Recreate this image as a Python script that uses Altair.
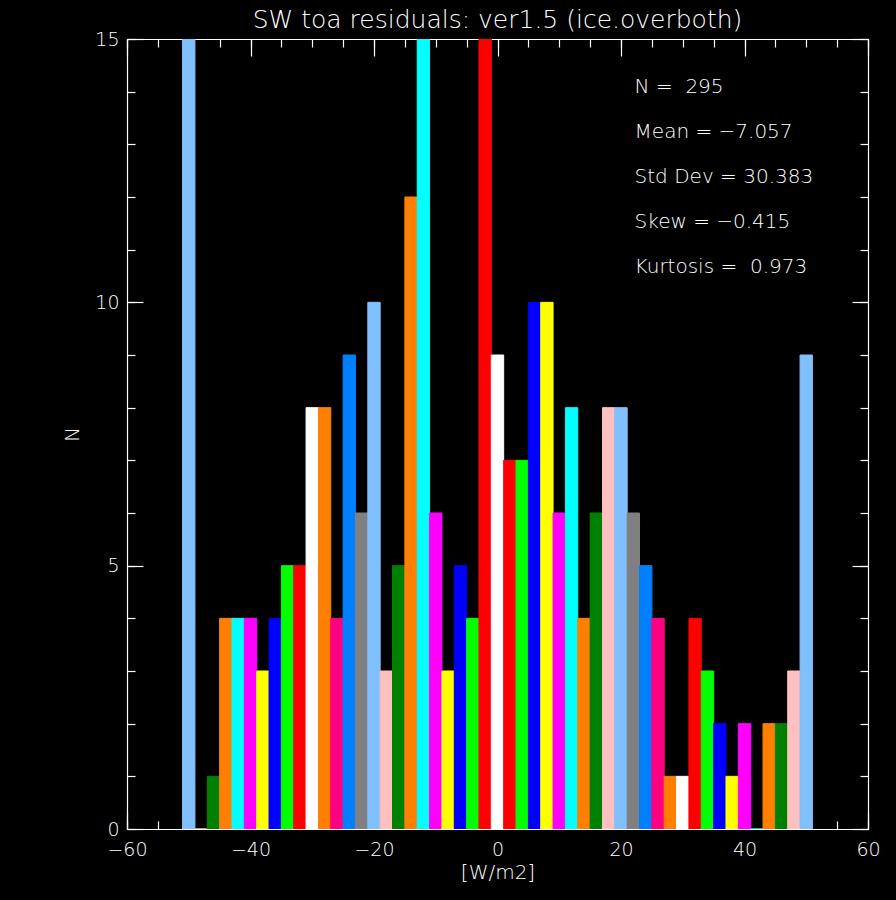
import altair as alt
import pandas as pd

# Histogram bins of the SW TOA residuals (bin width 2 W/m2)
bin_centers = list(range(-50, 51, 2))
counts = [23, 0, 1, 4, 4, 4, 3, 4, 5, 5, 8, 8, 4, 9, 6, 10, 3, 5, 12, 15, 6, 3, 5, 4, 16, 9,
          7, 7, 10, 10, 6, 8, 4, 6, 8, 8, 6, 5, 4, 1, 1, 4, 3, 2, 1, 2, 0, 2, 2, 3, 9]

LB, PK, DG, OR, CY, MA = "#80c0ff", "#ffc0c0", "#008000", "#ff8000", "#00ffff", "#ff00ff"
YE, BL, GR, RD, WH = "#ffff00", "#0000ff", "#00ff00", "#ff0000", "#ffffff"
DP, DB, GY = "#ff0080", "#0080ff", "#808080"
bar_colors = [LB, PK, DG, OR, CY, MA, YE, BL, GR, RD, WH, OR, DP, DB, GY,
              LB, PK, DG, OR, CY, MA, YE, BL, GR, RD, WH,
              RD, GR, BL, YE, MA, CY, OR, DG, PK, LB, GY, DB, DP, OR, WH,
              RD, GR, BL, YE, MA, CY, OR, DG, PK, LB]
bin_width = 2

stat_lines = ["N = \u00a0295", "Mean = \u22127.057", "Std Dev = 30.383",
              "Skew = \u22120.415", "Kurtosis = \u00a00.973"]
stat_x = 22.2
stat_y0 = 13.97
stat_dy = 0.851

x_major = [-60, -40, -20, 0, 20, 40, 60]
x_minor = list(range(-60, 61, 5))
y_major = [0, 5, 10, 15]
y_minor = list(range(0, 16))

FONT = "DejaVu Sans"
WEIGHT = 200
W, H = 741, 790

df = pd.DataFrame({
    "center": bin_centers,
    "lo": [c - bin_width / 2 for c in bin_centers],
    "hi": [c + bin_width / 2 for c in bin_centers],
    "count": counts,
    "color": bar_colors,
})
df_stats = pd.DataFrame({
    "label": stat_lines,
    "x": [stat_x] * len(stat_lines),
    "y": [stat_y0 - stat_dy * i for i in range(len(stat_lines))],
})

xs = alt.Scale(domain=[-60, 60], nice=False, zero=False)
# counts above the top of the axis are drawn up to the frame
ys = alt.Scale(domain=[0, 15], nice=False, zero=False, clamp=True)

bars = alt.Chart(df).mark_rect(clip=True, strokeWidth=1).encode(
    x=alt.X("lo:Q", scale=xs, axis=alt.Axis(
        orient="bottom", values=x_major, tickSize=0, labelPadding=11, labelFlush=False,
        title="[W/m2]", titlePadding=3, domain=True)),
    x2="hi:Q",
    y=alt.Y("count:Q", scale=ys, axis=alt.Axis(
        orient="left", values=y_major, tickSize=0, labelPadding=8,
        title="N", titlePadding=12, domain=True)),
    y2=alt.datum(0),
    color=alt.Color("color:N", scale=None),
    stroke=alt.Stroke("color:N", scale=None),
)


def edge_axis(orient, values, size, offset, domain=False):
    return alt.Axis(orient=orient, values=values, tickSize=size, offset=offset,
                    labels=False, domain=domain, title=None)


def tick_layer(xaxis, yaxis):
    return alt.Chart(df).mark_point(opacity=0, clip=True).encode(
        x=alt.X("center:Q", scale=xs, axis=xaxis),
        y=alt.Y("count:Q", scale=ys, axis=yaxis),
    )


# inward ticks on all four edges (major + minor)
ticks_bl_major = tick_layer(edge_axis("top", x_major, 17, -H), edge_axis("right", y_major, 16, -W))
ticks_bl_minor = tick_layer(edge_axis("top", x_minor, 8, -H), edge_axis("right", y_minor, 8, -W))
ticks_tr_major = tick_layer(edge_axis("bottom", x_major, 17, -H, True), edge_axis("left", y_major, 16, -W, True))
ticks_tr_minor = tick_layer(edge_axis("bottom", x_minor, 8, -H), edge_axis("left", y_minor, 8, -W))

stats = alt.Chart(df_stats).mark_text(
    align="left", baseline="alphabetic", color="white", font=FONT, fontSize=20,
    fontWeight=WEIGHT
).encode(
    x=alt.X("x:Q", scale=xs, axis=None),
    y=alt.Y("y:Q", scale=ys, axis=None),
    text="label:N",
)

chart = alt.layer(
    bars, ticks_bl_major, ticks_bl_minor, ticks_tr_major, ticks_tr_minor, stats
).resolve_axis(
    x="independent", y="independent"
).properties(
    width=W, height=H,
    background="black",
    padding={"left": 127, "top": 39, "right": 28, "bottom": 71},
    autosize=alt.AutoSizeParams(type="none"),
    title=alt.TitleParams(
        text="SW toa residuals: ver1.5 (ice.overboth)", color="white",
        font=FONT, fontSize=25, fontWeight=WEIGHT, anchor="middle",
        frame="group", baseline="alphabetic", offset=-23),
).configure_view(
    stroke=None
).configure_axis(
    grid=False, domainColor="white", domainWidth=1.2, tickColor="white", tickWidth=1.2,
    labelColor="white", labelFont=FONT, labelFontSize=19, labelFontWeight=WEIGHT,
    titleColor="white", titleFont=FONT, titleFontSize=20, titleFontWeight=WEIGHT,
)

chart.save("out.html", embed_options={"renderer": "svg", "actions": False})
